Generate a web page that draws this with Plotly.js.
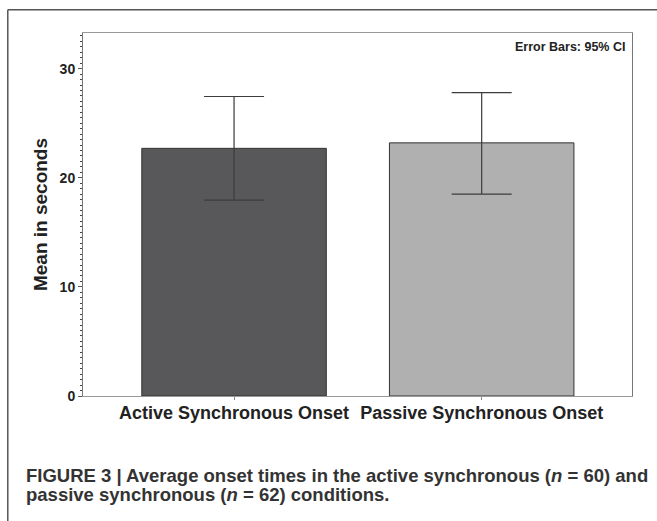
<!DOCTYPE html>
<html>
<head>
<meta charset="utf-8">
<script src="https://cdn.plot.ly/plotly-3.0.1.min.js"></script>
<style>
html,body{margin:0;padding:0;background:#fff;}
#chart{width:657px;height:521px;}
</style>
</head>
<body>
<div id="chart"></div>
<script>
const categories = ["Active Synchronous Onset", "Passive Synchronous Onset"];
const means = [22.7, 23.2];
const ciUpper = [27.45, 27.8];
const ciLower = [17.95, 18.5];
const barColors = ["#58585a", "#b0b0b0"];
const yTickVals = [0, 10, 20, 30];
const yTickText = ["0", "10", "20", "30"];
const noteText = "Error Bars: 95% CI";
const yTitle = "Mean in seconds";
const captionLines = [
  "FIGURE 3 | Average onset times in the active synchronous (<i>n</i> = 60) and",
  "passive synchronous (<i>n</i> = 62) conditions."
];

const errPlus = means.map((m, i) => ciUpper[i] - m);
const errMinus = means.map((m, i) => m - ciLower[i]);

const trace = {
  type: "bar",
  x: categories,
  y: means,
  width: 0.745,
  marker: {color: barColors, line: {color: "#333333", width: 1}},
  error_y: {
    type: "data", symmetric: false, array: errPlus, arrayminus: errMinus,
    color: "#3c3c3c", thickness: 1.2, width: 30
  },
  hoverinfo: "none"
};

const F = "Liberation Sans, Arial, sans-serif";
const layout = {
  width: 657, height: 521,
  margin: {l: 83.3, r: 25, t: 33.3, b: 125},
  paper_bgcolor: "#ffffff", plot_bgcolor: "#ffffff",
  showlegend: false,
  font: {family: F, color: "#222"},
  xaxis: {
    type: "category", range: [-0.61, 1.607],
    showline: true, linecolor: "#999", linewidth: 1, mirror: true,
    ticks: "outside", ticklen: 3, tickcolor: "#888", ticklabelstandoff: -3,
    tickfont: {size: 18, color: "#222", family: F, weight: "bold"},
    showgrid: false, zeroline: false, fixedrange: true
  },
  yaxis: {
    range: [0, 33.27],
    tickvals: yTickVals, ticktext: yTickText,
    showline: true, linecolor: "#777", linewidth: 1, mirror: true,
    ticks: "outside", ticklen: 4, tickcolor: "#555",
    tickfont: {size: 14, color: "#222", family: F, weight: "bold"},
    minor: {dtick: 0.5, ticks: "outside", ticklen: 2, tickcolor: "#444", showgrid: false},
    showgrid: false, zeroline: false, fixedrange: true,
    title: {text: yTitle, standoff: 6,
      font: {size: 19, color: "#222", family: F, weight: "bold"}}
  },
  annotations: [
    {text: noteText, xref: "paper", yref: "paper", x: 0.99, y: 0.985,
     xanchor: "right", yanchor: "top", showarrow: false,
     font: {size: 12.5, color: "#222", weight: "bold"}},
    {text: captionLines[0], xref: "paper", yref: "paper", x: -0.108, xanchor: "left",
     y: -0.219, yanchor: "middle", showarrow: false,
     font: {size: 18.5, color: "#333", weight: "bold"}},
    {text: captionLines[1], xref: "paper", yref: "paper", x: -0.108, xanchor: "left",
     y: -0.27, yanchor: "middle", showarrow: false,
     font: {size: 18.5, color: "#333", weight: "bold"}}
  ],
  shapes: [
    {type: "line", xref: "paper", yref: "paper", x0: -0.137, x1: 1.05, y0: 1.064, y1: 1.064,
     line: {color: "#555", width: 1.5}},
    {type: "line", xref: "paper", yref: "paper", x0: -0.137, x1: -0.137, y0: 1.064, y1: -0.35,
     line: {color: "#555", width: 1.5}}
  ]
};

Plotly.newPlot("chart", [trace], layout, {displayModeBar: false, staticPlot: true});
</script>
</body>
</html>
